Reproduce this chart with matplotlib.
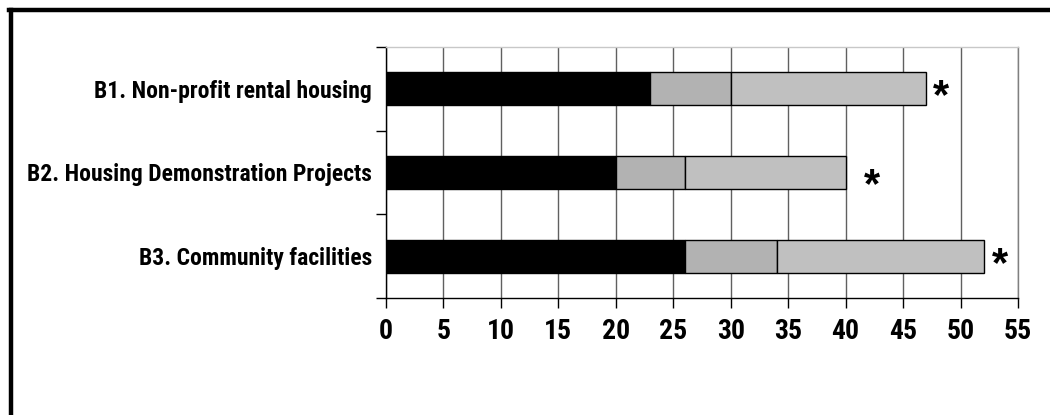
import matplotlib
matplotlib.use("Agg")
import matplotlib.pyplot as plt
from matplotlib import font_manager as fm
from matplotlib.lines import Line2D
import numpy as np

# data
categories = ["B1. Non-profit rental housing",
              "B2. Housing Demonstration Projects",
              "B3. Community facilities"]
part1 = [23, 20, 26]
part2 = [7, 6, 8]
part3 = [17, 14, 18]
star_x = [48.3, 42.3, 53.4]
star_dy = [0.0, 0.06, 0.0]
xticks = [0, 5, 10, 15, 20, 25, 30, 35, 40, 45, 50, 55]

# narrow bold face like the original if one is installed
installed = {f.name for f in fm.fontManager.ttflist}
narrow = None
for cand in ["Liberation Sans Narrow", "Arial Narrow", "Roboto Condensed",
             "Noto Sans Condensed", "Open Sans Condensed", "DejaVu Sans Condensed"]:
    if cand in installed:
        narrow = cand
        break
if narrow is None:
    for n in sorted(installed):
        if "Narrow" in n or "Condensed" in n:
            narrow = n
            break
fam = [narrow, "Liberation Sans", "DejaVu Sans"] if narrow else ["Liberation Sans", "DejaVu Sans"]

fig = plt.figure(figsize=(10.5, 4.15), dpi=100)
ax = fig.add_axes([0.3676, 0.2812, 0.6019, 0.6063])

y = np.arange(len(categories))
h = 0.39
left2 = np.array(part1)
left3 = left2 + np.array(part2)
ax.barh(y, part1, height=h, color="black", edgecolor="black", linewidth=1, zorder=3)
ax.barh(y, part2, left=left2, height=h, color="#b2b2b2", edgecolor="black", linewidth=1, zorder=3)
ax.barh(y, part3, left=left3, height=h, color="#c0c0c0", edgecolor="black", linewidth=1, zorder=3)

for i in range(len(categories)):
    ax.text(star_x[i], y[i] + 0.10 + star_dy[i], "*", ha="center", va="center",
            fontsize=30, fontweight="bold", family=["Liberation Sans", "DejaVu Sans"], zorder=4)

ax.set_xlim(0, 55)
ax.set_ylim(len(categories) - 0.5, -0.5)
ax.set_xticks(xticks)
ax.set_xticklabels([str(t) for t in xticks])
ax.set_yticks(y)
ax.set_yticklabels(categories)
ax.set_yticks(np.arange(len(categories) + 1) - 0.5, minor=True)

ax.tick_params(axis="y", which="major", length=0, pad=10)
ax.tick_params(axis="y", which="minor", length=7, width=1, color="black", direction="out")
ax.tick_params(axis="x", length=7, width=1, color="black", direction="out", pad=7)

for lab in ax.get_yticklabels():
    lab.set_fontfamily(fam)
    lab.set_fontweight("bold")
    lab.set_fontsize(16)
for lab in ax.get_xticklabels():
    lab.set_fontfamily(fam)
    lab.set_fontweight("bold")
    lab.set_fontsize(20 if narrow else 19)

# longest label is about 345 px wide in the original
fig.canvas.draw()
r = fig.canvas.get_renderer()
w = max(l.get_window_extent(r).width for l in ax.get_yticklabels())
size = min(17.0, 16 * 345 / w)
for lab in ax.get_yticklabels():
    lab.set_fontsize(size)

ax.grid(axis="x", color="#606060", linewidth=1, zorder=0)
ax.spines["left"].set_color("black")
ax.spines["bottom"].set_color("black")
ax.spines["top"].set_color("#c8c8c8")
ax.spines["right"].set_color("#808080")
for s in ax.spines.values():
    s.set_linewidth(1)

# thick outer frame (only left and top visible)
fig.add_artist(Line2D([0.0105, 0.0105], [0.0, 0.975], color="black", linewidth=3.2))
fig.add_artist(Line2D([0.0090, 1.0], [0.975, 0.975], color="black", linewidth=3.2))

fig.savefig("out.png", dpi=100)
